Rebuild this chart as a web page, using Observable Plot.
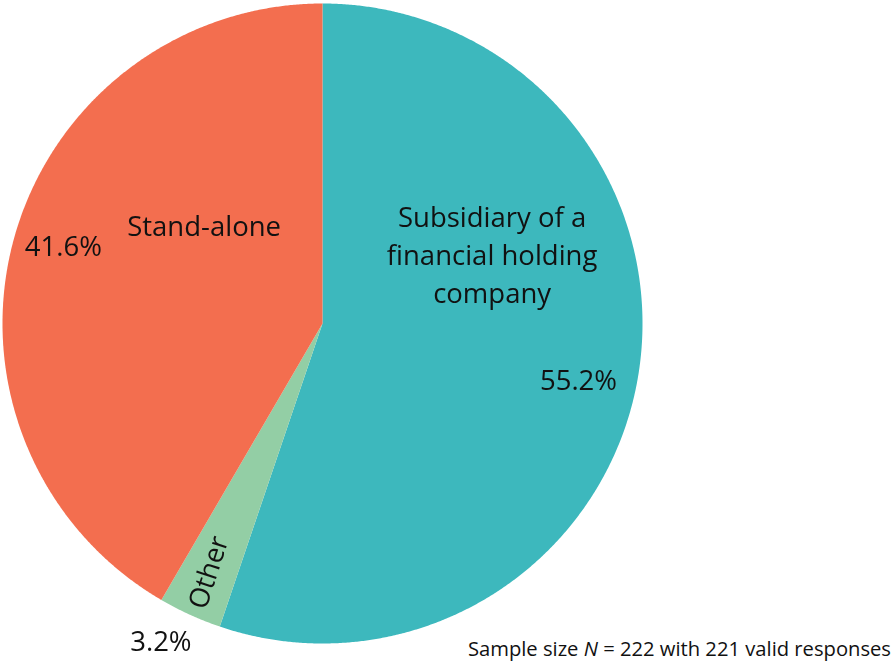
<!DOCTYPE html>
<html>
<head>
<meta charset="utf-8">
<script src="https://cdn.jsdelivr.net/npm/d3@7"></script>
<script src="https://cdn.jsdelivr.net/npm/@observablehq/plot@0.6"></script>
<style>
  html, body { margin: 0; padding: 0; background: #fff; }
  #wrap { position: relative; width: 893px; height: 662px; font-family: "Open Sans", sans-serif; }
  #caption { position: absolute; right: 2px; top: 635px; font-size: 20.2px; line-height: 26px; color: #111; white-space: nowrap; }
</style>
</head>
<body>
<div id="wrap"><div id="caption">Sample size <i>N</i> = 222 with 221 valid responses</div></div>
<script>
// Data
const categories = ["Subsidiary of a financial holding company", "Other", "Stand-alone"];
const shares = [55.2, 3.2, 41.6];
const colors = ["#3db8bd", "#93cea5", "#f36e4f"];

// Label layout (data units, pie radius = 1)
const labelLayout = [
  {text: "Subsidiary of a\nfinancial holding\ncompany", x: 0.53, y: 0.22, rotate: 0},
  {text: "55.2%", x: 0.80, y: -0.17, rotate: 0},
  {text: "Stand-alone", x: -0.37, y: 0.31, rotate: 0},
  {text: "41.6%", x: -0.81, y: 0.25, rotate: 0},
  {text: "Other", x: -0.365, y: -0.775, rotate: -72},
  {text: "3.2%", x: -0.505, y: -0.985, rotate: 0}
];

const table = categories.map((c, i) => ({name: c, value: shares[i]}));
const arcs = d3.pie().sort(null).value(d => d.value)(table);
const pts = [];
for (const a of arcs) {
  const name = a.data.name;
  pts.push({name, x: 0, y: 0});
  const n = Math.max(4, Math.ceil((a.endAngle - a.startAngle) / 0.005));
  for (let k = 0; k <= n; k++) {
    const t = a.startAngle + (a.endAngle - a.startAngle) * k / n;
    pts.push({name, x: Math.sin(t), y: Math.cos(t)});
  }
  pts.push({name, x: 0, y: 0});
}

const chart = Plot.plot({
  width: 893,
  height: 662,
  margin: 0,
  style: {fontFamily: "'Open Sans', sans-serif", background: "#fff"},
  x: {domain: [-1, 1], range: [2, 642], axis: null},
  y: {domain: [-1, 1], range: [643, 3], axis: null},
  color: {domain: categories, range: colors},
  marks: [
    Plot.line(pts, {x: "x", y: "y", z: "name", fill: "name", stroke: null, curve: "linear"}),
    Plot.text(labelLayout, {x: "x", y: "y", text: "text", rotate: "rotate", fontSize: 27.5, fill: "#111", lineHeight: 1.38, textAnchor: "middle"})
  ]
});
chart.style.filter = "drop-shadow(0px 2px 2px rgba(0,0,0,0.25))";
document.getElementById("wrap").prepend(chart);
</script>
</body>
</html>
